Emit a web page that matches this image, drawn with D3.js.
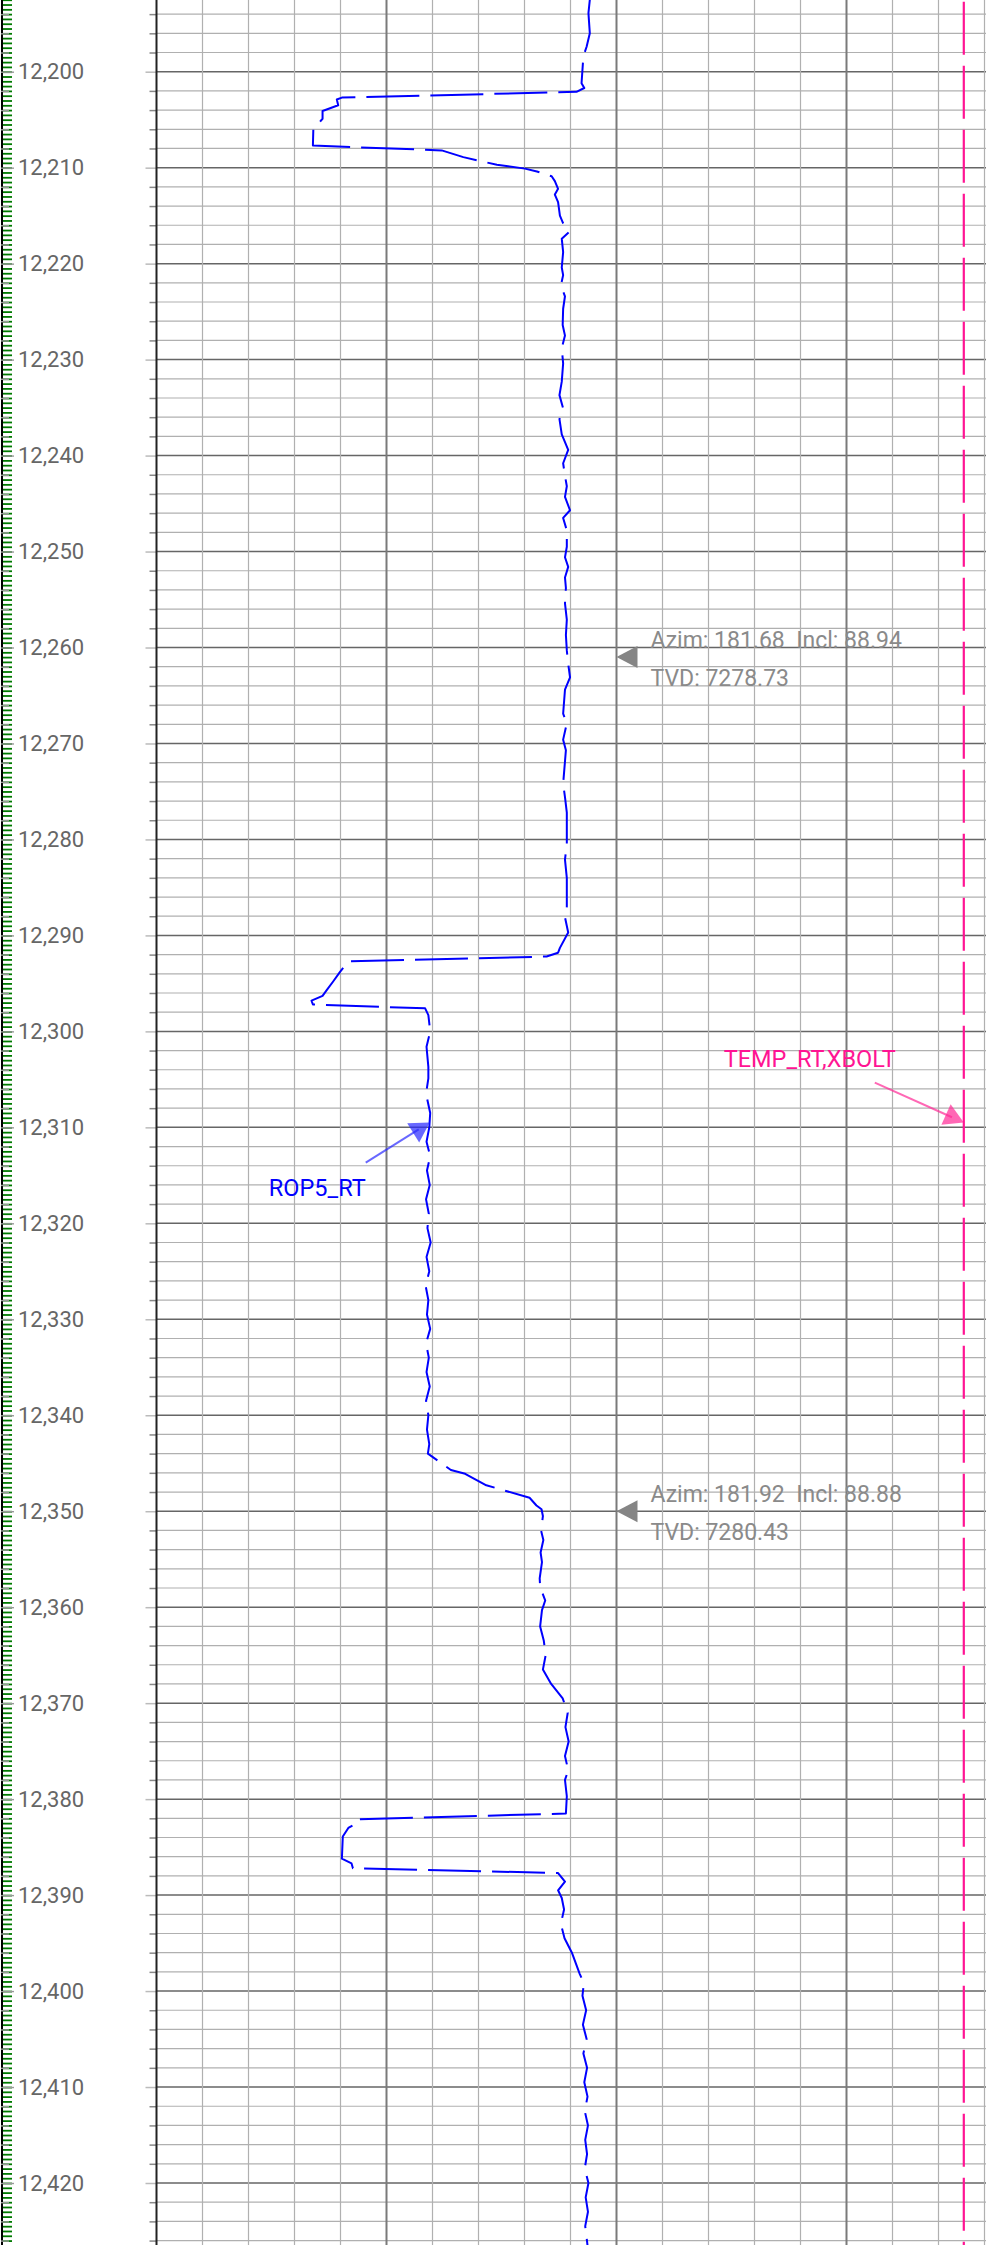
<!DOCTYPE html>
<html lang="en">
  <head>
    <meta charset="UTF-8" />
    <title>Depth log - ROP5_RT</title>
    <script src="https://d3js.org/d3.v7.min.js"></script>
    <style>
      body {
        margin: 0;
        background: #fff;
        font-family: Roboto, Arial, sans-serif;
      }
      svg {
        display: block;
      }
    </style>
  </head>
  <body>
    <div id="chart"></div>
    <script>
      const ropDepth = [
        12192.5, 12193.9, 12196.0, 12197.4, 12198.4, 12201.2, 12201.7, 12202.1,
        12202.7, 12202.9, 12203.5, 12204.1, 12204.9, 12205.4, 12205.9, 12207.7,
        12208.2, 12208.9, 12209.7, 12210.1, 12210.4, 12210.9, 12211.4, 12212.2,
        12212.8, 12213.6, 12215.0, 12215.8, 12216.7, 12217.4, 12218.8, 12220.4,
        12221.2, 12222.3, 12223.4, 12224.7, 12226.4, 12227.5, 12228.8, 12230.4,
        12232.3, 12233.7, 12235.1, 12236.2, 12237.8, 12239.4, 12240.8, 12242.1,
        12243.2, 12244.3, 12245.7, 12246.5, 12247.8, 12249.5, 12250.6, 12251.6,
        12252.7, 12253.8, 12255.4, 12257.1, 12258.7, 12260.3, 12261.7, 12263.1,
        12264.4, 12266.9, 12267.9, 12269.6, 12270.7, 12274.2, 12275.6, 12277.2,
        12278.8, 12280.5, 12282.1, 12284.0, 12285.4, 12287.0, 12288.1, 12289.7,
        12291.3, 12291.8, 12292.2, 12292.7, 12293.8, 12294.8, 12295.7, 12296.3,
        12296.8, 12297.2, 12297.6, 12298.3, 12300.0, 12301.6, 12303.7, 12304.9,
        12306.5, 12308.5, 12310.0, 12311.5, 12313.0, 12314.5, 12316.0, 12317.5,
        12319.0, 12320.5, 12322.0, 12323.5, 12325.0, 12326.5, 12328.0, 12329.5,
        12331.0, 12332.5, 12334.0, 12335.5, 12337.0, 12338.5, 12340.0, 12341.5,
        12343.0, 12344.0, 12345.7, 12346.1, 12347.3, 12347.6, 12348.6, 12349.4,
        12349.8, 12350.5, 12352.0, 12353.0, 12354.3, 12355.3, 12357.0, 12357.9,
        12359.3, 12360.3, 12362.0, 12363.5, 12365.0, 12366.5, 12368.0, 12369.5,
        12371.0, 12372.5, 12374.0, 12375.5, 12377.0, 12378.0, 12379.7, 12381.5,
        12382.1, 12382.7, 12383.0, 12383.9, 12386.2, 12386.7, 12387.2, 12387.7,
        12388.6, 12389.5, 12390.3, 12391.5, 12393.0, 12394.5, 12396.0, 12398.2,
        12399.2, 12400.5, 12402.0, 12403.5, 12405.0, 12406.5, 12408.0, 12409.5,
        12411.0, 12412.5, 12414.0, 12415.5, 12417.0, 12418.5, 12420.0, 12421.5,
        12423.0, 12424.5, 12426.5
      ];
      const ropValue = [
        94.2, 93.9, 94.2, 93.5, 92.8, 92.4, 93.0, 91.3,
        40.3, 39.2, 39.5, 36.1, 36.1, 35.2, 34.1, 34.0,
        62.0, 66.7, 74.0, 80.1, 82.7, 85.9, 86.6, 87.3,
        86.6, 87.3, 87.7, 88.4, 89.7, 88.1, 88.4, 88.1,
        88.4, 87.9, 88.8, 88.4, 88.3, 88.8, 88.1, 88.4,
        88.1, 87.6, 88.4, 87.6, 88.1, 89.5, 88.4, 88.8,
        89.2, 88.8, 89.9, 88.4, 89.2, 89.2, 88.8, 89.5,
        88.8, 89.0, 88.8, 89.2, 89.0, 89.2, 89.5, 89.9,
        88.8, 88.4, 89.2, 88.4, 89.0, 88.4, 88.8, 89.2,
        89.2, 89.2, 88.8, 89.2, 89.2, 89.2, 88.8, 89.5,
        87.7, 87.3, 84.8, 41.7, 39.9, 38.4, 37.0, 36.1,
        33.7, 34.0, 58.4, 59.1, 59.5, 58.7, 59.1, 59.1,
        58.6, 59.5, 59.3, 58.7, 59.5, 58.8, 59.4, 58.6,
        59.2, 58.9, 59.6, 58.7, 59.3, 58.5, 59.1, 58.8,
        59.5, 58.6, 59.2, 58.7, 59.4, 58.6, 59.1, 58.8,
        59.3, 59.0, 64.0, 67.1, 71.7, 73.9, 81.1, 82.6,
        83.7, 84.0, 83.6, 84.1, 83.5, 83.8, 83.3, 83.4,
        84.5, 83.8, 83.4, 84.2, 84.6, 84.0, 85.8, 88.3,
        89.4, 88.9, 89.6, 88.8, 89.5, 88.8, 89.2, 89.0,
        43.5, 42.8, 41.7, 40.5, 40.3, 42.4, 42.7, 87.3,
        88.8, 87.3, 88.1, 88.6, 87.9, 88.7, 90.3, 92.0,
        92.9, 92.6, 93.4, 92.7, 93.5, 92.8, 93.6, 93.0,
        93.7, 93.1, 93.8, 93.2, 93.6, 93.1, 93.9, 93.3,
        93.8, 93.2, 93.7
      ];

      // TEMP_RT,XBOLT is flat across the window
      const tempDepth = [12192.5, 12426.5];
      const tempValue = [175.5, 175.5];

      // survey stations
      const surveyDepth = [12261, 12350];
      const surveyAzim = ["181.68", "181.92"];
      const surveyIncl = ["88.94", "88.88"];
      const surveyTvd = ["7278.73", "7280.43"];

      // curve name callouts
      const calloutNames = ["ROP5_RT", "TEMP_RT,XBOLT"];
      const calloutDepth = [12309.5, 12309.5];
      const calloutValue = [59.4, 175.5];

      const width = 986;
      const height = 2245;

      const svg = d3
        .select("#chart")
        .append("svg")
        .attr("width", width)
        .attr("height", height);

      const y = d3.scaleLinear().domain([12200, 12420]).range([71.7, 2183.0]);
      const x = d3.scaleLinear().domain([0, 180]).range([156.5, 984.5]);

      const topDepth = y.invert(0);
      const bottomDepth = y.invert(height);

      // ---- grid ----
      const grid = svg.append("g");
      const hDepths = d3.range(12190, 12430, 2).filter((d) => d >= topDepth && d <= bottomDepth);
      grid
        .selectAll("line.h")
        .data(hDepths)
        .join("line")
        .attr("x1", x(0))
        .attr("x2", width)
        .attr("y1", (d) => y(d))
        .attr("y2", (d) => y(d))
        .attr("stroke", (d) => (d % 10 === 0 ? "#666" : "#b0b0b0"))
        .attr("stroke-width", (d) => (d % 10 === 0 ? 1.5 : 1.2));

      const vVals = d3.range(10, 190, 10);
      grid
        .selectAll("line.v")
        .data(vVals)
        .join("line")
        .attr("x1", (d) => x(d))
        .attr("x2", (d) => x(d))
        .attr("y1", 0)
        .attr("y2", height)
        .attr("stroke", (d) => (d % 50 === 0 ? "#7a7a7a" : "#b0b0b0"))
        .attr("stroke-width", (d) => (d % 50 === 0 ? 2 : 1.2));

      // short ticks left of the track
      const trackAxis = d3
        .axisLeft(y)
        .tickValues(hDepths)
        .tickSize(8)
        .tickFormat("");
      const ta = svg.append("g").attr("transform", `translate(${x(0)},0)`).call(trackAxis);
      ta.select(".domain").remove();
      ta.selectAll(".tick line")
        .attr("stroke", (d) => (d % 10 === 0 ? "#bbb" : "#888"))
        .attr("stroke-width", 1.5)
        .attr("x2", (d) => (d % 10 === 0 ? -11 : -7));

      svg
        .append("line")
        .attr("x1", x(0))
        .attr("x2", x(0))
        .attr("y1", 0)
        .attr("y2", height)
        .attr("stroke", "#222")
        .attr("stroke-width", 2);

      // ---- depth track ----
      const depthTrack = svg.append("g");
      depthTrack
        .append("line")
        .attr("x1", 2)
        .attr("x2", 2)
        .attr("y1", 0)
        .attr("y2", height)
        .attr("stroke", "#000")
        .attr("stroke-width", 2);

      const rug = d3
        .axisRight(y)
        .tickValues(d3.range(12192.5, 12427, 0.5))
        .tickSize(9)
        .tickFormat("");
      const rg = depthTrack.append("g").attr("transform", "translate(3,0)").call(rug);
      rg.select(".domain").remove();
      rg.selectAll(".tick line").attr("stroke", "#007a00").attr("stroke-width", 1.8);

      const minorDepth = d3
        .axisRight(y)
        .tickValues(hDepths)
        .tickSize(10)
        .tickFormat("");
      const md = depthTrack.append("g").attr("transform", "translate(1,0)").call(minorDepth);
      md.select(".domain").remove();
      md.selectAll(".tick line")
        .attr("stroke", "#999")
        .attr("stroke-width", 1.4)
        .attr("x2", (d) => (d % 10 === 0 ? 13 : 8));

      const labelDepths = d3.range(12200, 12430, 10);
      depthTrack
        .selectAll("text.depth")
        .data(labelDepths)
        .join("text")
        .attr("x", 18)
        .attr("y", (d) => y(d))
        .attr("dy", "0.35em")
        .attr("fill", "#666")
        .style("font-size", "22px")
        .text((d) => d3.format(",")(d));

      // ---- curves ----
      const line = d3
        .line()
        .x((d) => d[0])
        .y((d) => d[1]);

      const tempX = d3.scaleLinear().domain([0, 180]).range([156.5, 984.5]);
      svg
        .append("path")
        .datum(tempDepth.map((d, i) => [tempX(tempValue[i]), y(d)]))
        .attr("d", line)
        .attr("fill", "none")
        .attr("stroke", "#ff1493")
        .attr("stroke-width", 2.2)
        .attr("stroke-dasharray", "53,11")
        .attr("stroke-dashoffset", 62);

      svg
        .append("path")
        .datum(ropDepth.map((d, i) => [x(ropValue[i]), y(d)]))
        .attr("d", line)
        .attr("fill", "none")
        .attr("stroke", "#0000ff")
        .attr("stroke-width", 2)
        .attr("stroke-linejoin", "round")
        .attr("stroke-dasharray", "53,11");

      // ---- survey markers ----
      const survey = svg
        .selectAll("g.survey")
        .data(surveyDepth)
        .join("g")
        .attr("transform", (d) => `translate(${x(100)},${y(d)})`);
      survey
        .append("path")
        .attr("d", "M0,0 L21,-11 L21,11 Z")
        .attr("fill", "#858585");
      survey
        .append("text")
        .attr("x", 34)
        .attr("y", -9)
        .attr("fill", "#8a8a8a")
        .style("font-size", "23px")
        .style("white-space", "pre")
        .text((d, i) => `Azim: ${surveyAzim[i]}  Incl: ${surveyIncl[i]}`);
      survey
        .append("text")
        .attr("x", 34)
        .attr("y", 29)
        .attr("fill", "#8a8a8a")
        .style("font-size", "23px")
        .text((d, i) => `TVD: ${surveyTvd[i]}`);

      // ---- curve name callouts ----
      const calloutStyle = [
        { dx: -64, dy: 40, color: "#0000ff", arrow: "rgba(40,40,255,0.7)", tx: 0, ty: 33 },
        { dx: -89, dy: -40, color: "#ff1493", arrow: "rgba(255,40,150,0.7)", tx: 21, ty: -16 }
      ];
      calloutNames.forEach((name, i) => {
        const s = calloutStyle[i];
        const scale = i === 0 ? x : tempX;
        const tx = scale(calloutValue[i]);
        const ty = y(calloutDepth[i]);
        const sx = tx + s.dx;
        const sy = ty + s.dy;
        const ang = Math.atan2(ty - sy, tx - sx);
        const r = 13;
        const cx = tx - r * Math.cos(ang);
        const cy = ty - r * Math.sin(ang);
        const pts = [0, 120, 240].map((a) => {
          const t = ang + (a * Math.PI) / 180;
          return [cx + r * Math.cos(t), cy + r * Math.sin(t)];
        });
        svg
          .append("line")
          .attr("x1", sx)
          .attr("y1", sy)
          .attr("x2", cx)
          .attr("y2", cy)
          .attr("stroke", s.arrow)
          .attr("stroke-width", 2);
        svg
          .append("polygon")
          .attr("points", pts.map((p) => p.join(",")).join(" "))
          .attr("fill", s.arrow);
        svg
          .append("text")
          .attr("x", sx + s.tx)
          .attr("y", sy + s.ty)
          .attr("text-anchor", "end")
          .attr("fill", s.color)
          .style("font-size", "23.5px")
          .text(name);
      });
    </script>
  </body>
</html>
